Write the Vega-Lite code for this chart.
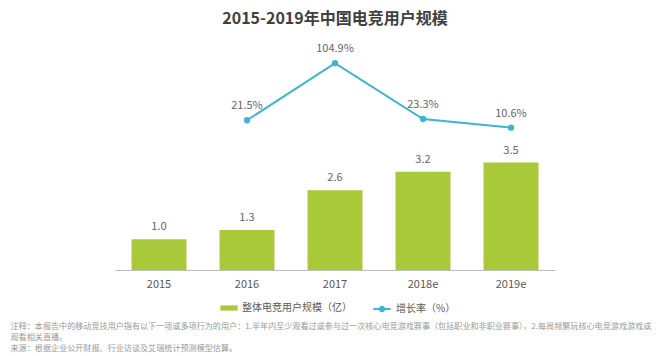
{
  "$schema": "https://vega.github.io/schema/vega-lite/v6.json",
  "width": 440,
  "height": 220,
  "autosize": {"type": "none"},
  "padding": {"left": 115, "top": 50, "right": 114, "bottom": 86},
  "background": "white",
  "config": {"view": {"stroke": null}, "font": "Noto Sans CJK SC"},
  "title": {"text": "2015-2019年中国电竞用户规模", "fontSize": 16, "fontWeight": "bold", "color": "#404040", "offset": 16, "anchor": "middle"},
  "data": {"values": [
    {"year": "2015", "users": 1.0, "growth": null},
    {"year": "2016", "users": 1.3, "growth": 21.5},
    {"year": "2017", "users": 2.6, "growth": 104.9},
    {"year": "2018e", "users": 3.2, "growth": 23.3},
    {"year": "2019e", "users": 3.5, "growth": 10.6}
  ]},
  "encoding": {
    "x": {
      "field": "year", "type": "ordinal", "sort": null,
      "scale": {"paddingInner": 0.375, "paddingOuter": 0.1875},
      "axis": {
        "labelAngle": 0, "labelColor": "#595959", "labelFontSize": 11, "labelPadding": 8,
        "ticks": false, "domainColor": "#BFBFBF",
        "title": ["注释：本报告中的移动竞技用户指有以下一项或多项行为的用户：1.半年内至少观看过或参与过一次核心电竞游戏赛事（包括职业和非职业赛事），2.每周频繁玩核心电竞游戏游戏或", "观看相关直播。", "来源：根据企业公开财报、行业访谈及艾瑞统计预测模型估算。"],
        "titleX": -105, "titleY": 52, "titleAlign": "left", "titleAnchor": "start", "titleBaseline": "top",
        "titleFontSize": 8.1, "titleFontWeight": "normal", "titleColor": "#999999", "titleLineHeight": 11
      }
    }
  },
  "layer": [
    {
      "encoding": {"y": {"field": "users", "type": "quantitative", "scale": {"domain": [0, 7.17]}, "axis": null}},
      "layer": [
        {
          "mark": {"type": "bar"},
          "encoding": {
            "fill": {"datum": "整体电竞用户规模（亿）", "type": "nominal", "scale": {"range": ["#A9C93A"]},
              "legend": {"title": null, "orient": "none", "legendX": 105, "legendY": 249, "labelFontSize": 10, "labelColor": "#595959",
                "symbolType": "M-1,-0.3H1V0.3H-1Z", "symbolSize": 300, "symbolStrokeWidth": 0}}
          }
        },
        {
          "mark": {"type": "text", "baseline": "bottom", "dy": -7, "fontSize": 11, "color": "#666666"},
          "encoding": {"text": {"field": "users", "type": "quantitative", "format": ".1f"}}
        }
      ]
    },
    {
      "transform": [
        {"filter": "datum.growth != null"},
        {"calculate": "format(datum.growth, '.1f') + '%'", "as": "growthLabel"}
      ],
      "encoding": {"y": {"field": "growth", "type": "quantitative", "scale": {"domain": [-197.4, 124.2]}, "axis": null}},
      "layer": [
        {
          "mark": {"type": "line", "strokeWidth": 2},
          "encoding": {
            "stroke": {"datum": "增长率（%）", "type": "nominal", "scale": {"range": ["#3CB4D2"]},
              "legend": {"title": null, "orient": "none", "legendX": 257, "legendY": 249, "labelFontSize": 10, "labelColor": "#595959",
                "symbolType": "M-1,0L1,0M0.25,0A0.25,0.25 0 1,1 -0.25,0A0.25,0.25 0 1,1 0.25,0Z", "symbolSize": 300, "symbolStrokeWidth": 2, "symbolFillColor": "#3CB4D2"}}
          }
        },
        {
          "mark": {"type": "point", "filled": true, "size": 40, "color": "#3CB4D2", "opacity": 1},
          "encoding": {}
        },
        {
          "mark": {"type": "text", "baseline": "bottom", "dy": -9, "fontSize": 11, "color": "#666666"},
          "encoding": {"text": {"field": "growthLabel", "type": "nominal"}}
        }
      ]
    }
  ],
  "resolve": {"scale": {"y": "independent"}}
}
